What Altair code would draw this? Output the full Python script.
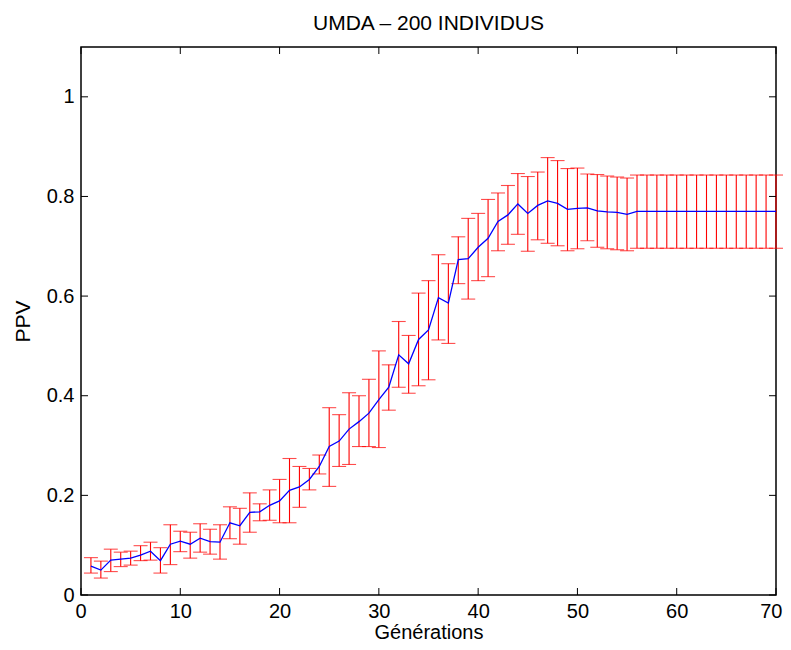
import altair as alt
import pandas as pd

generations = list(range(1, 71))
ppv_mean = [0.058, 0.050, 0.070, 0.072, 0.074, 0.080, 0.088, 0.069, 0.102, 0.108,
            0.102, 0.114, 0.107, 0.106, 0.145, 0.139, 0.166, 0.167, 0.180, 0.189,
            0.210, 0.217, 0.232, 0.258, 0.298, 0.309, 0.333, 0.348, 0.365, 0.392,
            0.417, 0.482, 0.464, 0.513, 0.532, 0.597, 0.586, 0.673, 0.675, 0.698,
            0.716, 0.750, 0.763, 0.785, 0.766, 0.782, 0.791, 0.786, 0.774, 0.776,
            0.777, 0.771, 0.769, 0.768, 0.764, 0.770, 0.770, 0.770, 0.770, 0.770,
            0.770, 0.770, 0.770, 0.770, 0.770, 0.770, 0.770, 0.770, 0.770, 0.770]
ppv_upper = [0.075, 0.068, 0.092, 0.086, 0.088, 0.099, 0.106, 0.095, 0.141, 0.128,
             0.126, 0.143, 0.132, 0.141, 0.177, 0.174, 0.205, 0.183, 0.211, 0.232,
             0.274, 0.258, 0.254, 0.281, 0.376, 0.362, 0.406, 0.400, 0.433, 0.490,
             0.462, 0.549, 0.521, 0.606, 0.631, 0.683, 0.665, 0.719, 0.756, 0.766,
             0.794, 0.807, 0.822, 0.846, 0.840, 0.849, 0.878, 0.872, 0.856, 0.857,
             0.845, 0.844, 0.841, 0.839, 0.837, 0.843, 0.843, 0.843, 0.843, 0.843,
             0.843, 0.843, 0.843, 0.843, 0.843, 0.843, 0.843, 0.843, 0.843, 0.843]
ppv_lower = [0.044, 0.034, 0.047, 0.057, 0.060, 0.069, 0.070, 0.044, 0.061, 0.087,
             0.074, 0.086, 0.082, 0.072, 0.113, 0.102, 0.126, 0.149, 0.150, 0.145,
             0.145, 0.176, 0.211, 0.243, 0.218, 0.258, 0.262, 0.298, 0.298, 0.296,
             0.371, 0.417, 0.405, 0.420, 0.432, 0.512, 0.505, 0.625, 0.594, 0.631,
             0.639, 0.691, 0.704, 0.724, 0.690, 0.713, 0.706, 0.701, 0.691, 0.695,
             0.711, 0.698, 0.695, 0.693, 0.691, 0.696, 0.696, 0.696, 0.696, 0.696,
             0.696, 0.696, 0.696, 0.696, 0.696, 0.696, 0.696, 0.696, 0.696, 0.696]

x_ticks = [0, 10, 20, 30, 40, 50, 60, 70]
y_ticks = [0, 0.2, 0.4, 0.6, 0.8, 1]

W, H = 695, 548
FONT = "Liberation Sans"
FS_LABEL = 20
FS_TITLE = 21

df = pd.DataFrame({"g": generations, "m": ppv_mean, "lo": ppv_lower, "hi": ppv_upper})
xt = pd.DataFrame({"v": x_ticks})
yt = pd.DataFrame({"v": y_ticks})

xscale = alt.Scale(domain=[0, 70], nice=False, zero=False, padding=0)
yscale = alt.Scale(domain=[0, 1.1], nice=False, zero=False, padding=0)

xaxis = alt.Axis(values=x_ticks, ticks=False, domain=False, grid=False, labelPadding=6,
                 labelFlush=True, labelFlushOffset=6, labelOverlap=False,
                 labelFont=FONT, labelFontSize=FS_LABEL, labelColor="black",
                 title="Générations", titleFont=FONT, titleFontSize=20,
                 titleFontWeight="normal", titleColor="black", titlePadding=1)
yaxis = alt.Axis(values=y_ticks, ticks=False, domain=False, grid=False, labelPadding=7,
                 labelFlush=False, labelOverlap=False,
                 format="~g", labelFont=FONT, labelFontSize=FS_LABEL, labelColor="black",
                 title="PPV", titleFont=FONT, titleFontSize=FS_TITLE,
                 titleFontWeight="normal", titleColor="black", titlePadding=13)

base = alt.Chart(df)

rules = base.mark_rule(color="#ff0000", strokeWidth=1.1).encode(
    x=alt.X("g:Q", scale=xscale, axis=xaxis),
    y=alt.Y("lo:Q", scale=yscale, axis=yaxis),
    y2="hi:Q",
)
cap_hi = base.mark_tick(color="#ff0000", orient="horizontal", size=14, thickness=1.1).encode(
    x=alt.X("g:Q", scale=xscale), y=alt.Y("hi:Q", scale=yscale))
cap_lo = base.mark_tick(color="#ff0000", orient="horizontal", size=14, thickness=1.1).encode(
    x=alt.X("g:Q", scale=xscale), y=alt.Y("lo:Q", scale=yscale))
line = base.mark_line(color="#0000ff", strokeWidth=1.3).encode(
    x=alt.X("g:Q", scale=xscale), y=alt.Y("m:Q", scale=yscale))

TL = 7
xt_bot = alt.Chart(xt).mark_rule(color="black", strokeWidth=1).encode(
    x=alt.X("v:Q", scale=xscale), y=alt.value(H), y2=alt.value(H - TL))
xt_top = alt.Chart(xt).mark_rule(color="black", strokeWidth=1).encode(
    x=alt.X("v:Q", scale=xscale), y=alt.value(0), y2=alt.value(TL))
yt_left = alt.Chart(yt).mark_rule(color="black", strokeWidth=1).encode(
    y=alt.Y("v:Q", scale=yscale), x=alt.value(0), x2=alt.value(TL))
yt_right = alt.Chart(yt).mark_rule(color="black", strokeWidth=1).encode(
    y=alt.Y("v:Q", scale=yscale), x=alt.value(W), x2=alt.value(W - TL))

chart = alt.layer(rules, cap_hi, cap_lo, line, xt_bot, xt_top, yt_left, yt_right).properties(
    width=W, height=H,
    title=alt.TitleParams("UMDA – 200 INDIVIDUS", font=FONT, fontSize=FS_TITLE,
                          fontWeight="normal", color="black", offset=13),
    autosize=alt.AutoSizeParams(type="none"),
    padding={"left": 73, "top": 39, "right": 7, "bottom": 47},
).configure(background="white").configure_view(stroke="black", strokeWidth=1.5)

chart.save("out.html", embed_options={"renderer": "svg", "actions": False})
